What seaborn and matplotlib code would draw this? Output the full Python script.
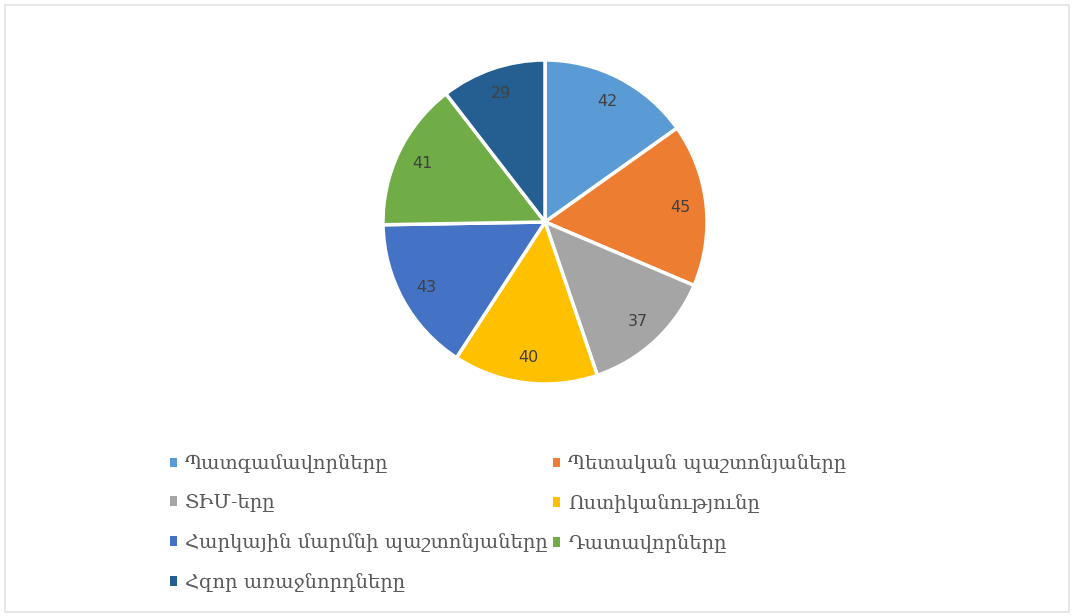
import matplotlib
matplotlib.use("Agg")
import matplotlib.pyplot as plt
import seaborn as sns
from matplotlib.patches import Rectangle, Patch

sns.set_theme(style="white")
plt.rcParams["font.family"] = ["DejaVu Sans"]

categories = [
    "Պատգամավորները",
    "Պետական պաշտոնյաները",
    "ՏԻՄ-երը",
    "Ոստիկանությունը",
    "Հարկային մարմնի պաշտոնյաները",
    "Դատավորները",
    "Հզոր առաջնորդները",
]
values = [42, 45, 37, 40, 43, 41, 29]
colors = ["#5B9BD5", "#ED7D31", "#A5A5A5", "#FFC000", "#4472C4", "#70AD47", "#255E91"]

W, H = 1074, 616
fig = plt.figure(figsize=(W / 100, H / 100), dpi=100)
fig.patch.set_facecolor("white")

# thin chart-area frame
fig.add_artist(Rectangle((5 / W, 4 / H), 1064 / W, 607 / H, transform=fig.transFigure,
                         fill=False, edgecolor="#e3e3e3", linewidth=1.2))

# pie axes: center (545, 222), radius ~162 px
r = 162
ax = fig.add_axes([(545 - r) / W, 1 - (222 + r) / H, 2 * r / W, 2 * r / H])
total = sum(values)
wedges, texts, autotexts = ax.pie(
    values,
    colors=colors,
    startangle=90,
    counterclock=False,
    wedgeprops=dict(edgecolor="white", linewidth=2.5),
    autopct=lambda p: f"{round(p * total / 100)}",
    pctdistance=0.84,
    textprops=dict(color="#404040", fontsize=11.5),
)
ax.set_aspect("equal")
ax.set_xlim(-1, 1)
ax.set_ylim(-1, 1)
ax.axis("off")

# legend in two columns, filled row by row
order = [0, 2, 4, 6, 1, 3, 5]
handles = [Patch(facecolor=colors[i], edgecolor="none") for i in order]
labels = [categories[i] for i in order]
fig.legend(
    handles, labels,
    ncol=2,
    loc="upper left",
    bbox_to_anchor=(152 / W, 1 - 437 / H),
    frameon=False,
    prop=dict(family="DejaVu Serif", size=14),
    handlelength=0.4,
    handleheight=0.4,
    handletextpad=0.4,
    labelspacing=1.07,
    columnspacing=0.25,
    labelcolor="#595959",
)

fig.savefig("out.png", dpi=100, facecolor="white")
